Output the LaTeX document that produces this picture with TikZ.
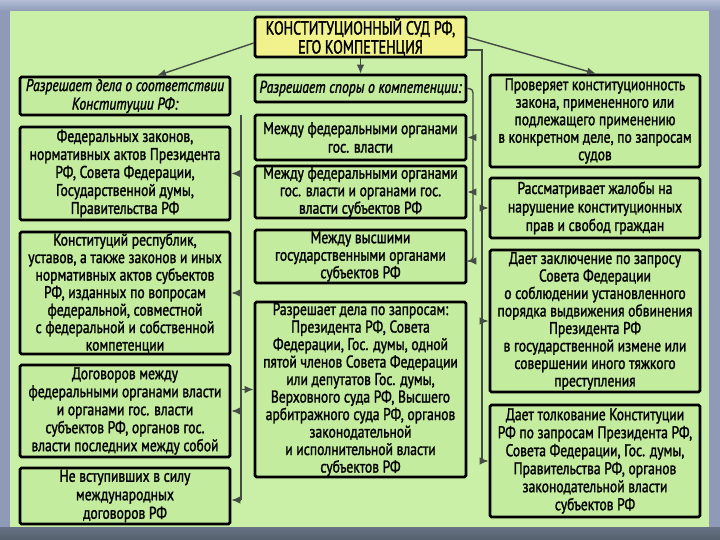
\documentclass[tikz,border=0pt]{standalone}
\usepackage{fontspec}
\setmainfont{PT Sans}[FakeStretch=0.80, FakeBold=1.5]
\newfontfamily\titlefont{PT Sans}[FakeStretch=0.74, FakeBold=1.6]
\usetikzlibrary{arrows.meta,calc}
\definecolor{framec}{HTML}{8E9AB8}
\definecolor{framet}{HTML}{B4BED6}
\definecolor{botc}{HTML}{55606E}
\definecolor{bgg}{HTML}{CAEFA6}
\definecolor{boxg}{HTML}{C4EC9E}
\definecolor{titley}{HTML}{F2F28C}
\definecolor{lineg}{HTML}{454C45}
\begin{document}
\begin{tikzpicture}[x=1pt,y=-1pt,
  box/.style={draw=black, line width=2.6pt, rounded corners=1.5pt, fill=boxg, inner sep=0pt, align=center, font=\fontsize{17}{18.5}\selectfont},
  mid/.style={font=\fontsize{17}{18}\selectfont},
  dense/.style={font=\fontsize{17}{17.5}\selectfont},
  hbox/.style={box, font=\fontsize{17}{18.5}\selectfont\itshape},
  conn/.style={draw=lineg, line width=1.4pt},
  arr/.style={conn, -{Latex[length=9pt,width=7.5pt]}}]
\useasboundingbox (0,0) rectangle (720,540);
% frame
\fill[framec] (0,0) rectangle (720,540);
\shade[top color=framet, bottom color=framec] (0,0) rectangle (720,11);
\shade[top color=botc!70!framec, bottom color=botc] (0,527) rectangle (720,540);
\fill[bgg] (10,11) rectangle (709,527);

% title
\node[box, fill=titley, minimum width=211pt, minimum height=40pt, font=\titlefont\fontsize{19}{19}\selectfont] (T) at (360.5,37) {КОНСТИТУЦИОННЫЙ СУД РФ,\\ЕГО КОМПЕТЕНЦИЯ};

% left column
\node[hbox, minimum width=210pt, minimum height=38pt] (L0) at (125,96) {Разрешает дела о соответствии\\Конституции РФ:};
\node[box, mid, minimum width=210pt, minimum height=93pt] (L1) at (125,173.5) {Федеральных законов,\\нормативных актов Президента\\РФ, Совета Федерации,\\Государственной думы,\\Правительства РФ};
\node[box, dense, minimum width=210pt, minimum height=122pt] (L2) at (125,293) {Конституций республик,\\уставов, а также законов и иных\\нормативных актов субъектов\\РФ, изданных по вопросам\\федеральной, совместной\\с федеральной и собственной\\компетенции};
\node[box, mid, minimum width=210pt, minimum height=92pt] (L3) at (125,411) {Договоров между\\федеральными органами власти\\и органами гос. власти\\субъектов РФ, органов гос.\\власти последних между собой};
\node[box, minimum width=210pt, minimum height=56pt] (L4) at (125,496) {Не вступивших в силу\\международных\\договоров РФ};

% middle column
\node[hbox, minimum width=211pt, minimum height=27pt] (M0) at (360.5,88.5) {Разрешает споры о компетенции:};
\node[box, minimum width=211pt, minimum height=45pt] (M1) at (360.5,137.5) {Между федеральными органами\\гос. власти};
\node[box, dense, minimum width=211pt, minimum height=52pt] (M2) at (360.5,192) {Между федеральными органами\\гос. власти и органами гос.\\власти субъектов РФ};
\node[box, dense, minimum width=211pt, minimum height=53pt] (M3) at (360.5,256.5) {Между высшими\\государственными органами\\субъектов РФ};
\node[box, dense, minimum width=211pt, minimum height=175pt] (M4) at (360.5,389.5) {Разрешает дела по запросам:\\Президента РФ, Совета\\Федерации, Гос. думы, одной\\пятой членов Совета Федерации\\или депутатов Гос. думы,\\Верховного суда РФ, Высшего\\арбитражного суда РФ, органов\\законодательной\\и исполнительной власти\\субъектов РФ};

% right column
\node[box, dense, minimum width=210pt, minimum height=92pt] (R1) at (595,121) {Проверяет конституционность\\закона, примененного или\\подлежащего применению\\в конкретном деле, по запросам\\судов};
\node[box, minimum width=210pt, minimum height=60pt] (R2) at (595,208) {Рассматривает жалобы на\\нарушение конституционных\\прав и свобод граждан};
\node[box, dense, minimum width=210pt, minimum height=142pt] (R3) at (595,321) {Дает заключение по запросу\\Совета Федерации\\о соблюдении установленного\\порядка выдвижения обвинения\\Президента РФ\\в государственной измене или\\совершении иного тяжкого\\преступления};
\node[box, mid, minimum width=210pt, minimum height=112pt] (R4) at (595,461) {Дает толкование Конституции\\РФ по запросам Президента РФ,\\Совета Федерации, Гос. думы,\\Правительства РФ, органов\\законодательной власти\\субъектов РФ};

% connectors from title
\draw[arr] ($(T.west)+(0,6)$) -- ($(L0.north)+(32,0)$);
\draw[arr] (T.south) -- (M0.north);
\draw[arr] ($(T.east)+(0,0)$) -- ($(R1.north)+(1,0)$);

% right vertical bus
\coordinate (rt) at (482,50);
\coordinate (rb) at (482,461);
\draw[conn] ($(T.east)+(0,13)$) -- (rt) -- (rb);
\draw[arr] (rb) -- (R4.west);
\draw[arr] (rt |- R2.west) -- (R2.west);
\draw[arr] (rt |- R3.west) -- (R3.west);

% left vertical bus
\coordinate (lt) at (241,115);
\coordinate (lb) at (241,500);
\draw[conn] (lt) -- (lb);
\draw[arr] (lb) -- (L4.east |- lb);
\draw[arr] (lt |- L1.east) -- (L1.east);
\draw[arr] (lt |- L2.east) -- (L2.east);
\draw[arr] (lt |- L3.east) -- (L3.east);
\draw[arr] (lt |- M4.west) -- (M4.west);

% middle bus
\coordinate (mt) at (473,88.5);
\coordinate (mb) at (473,261);
\draw[conn, rounded corners=4pt] (M0.east) -- (mt) -- (mb) -- ($(M3.east)+(5,4.5)$);
\draw[arr] ($(M3.east)+(5,4.5)$) -- ($(M3.east)+(0,4.5)$);
\draw[arr] (mt |- M1.east) -- (M1.east);
\draw[arr] (mt |- M2.east) -- (M2.east);
\end{tikzpicture}
\end{document}
